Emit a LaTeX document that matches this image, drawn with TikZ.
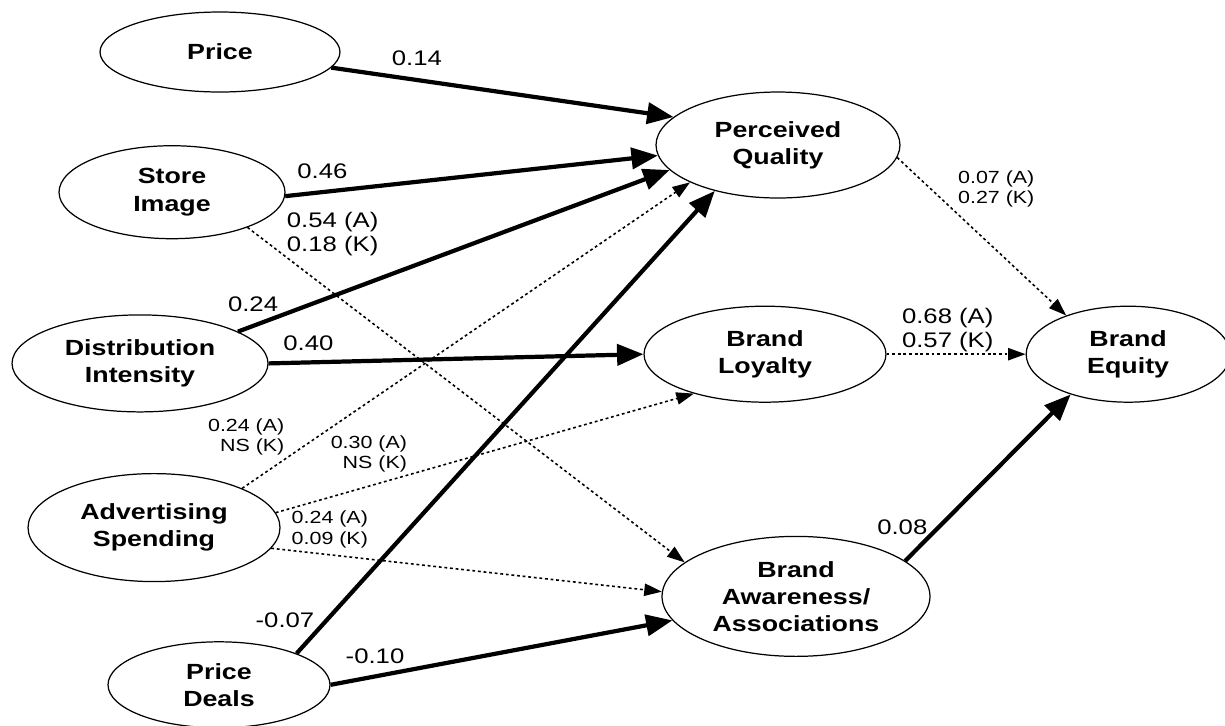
\documentclass[tikz,border=0pt]{standalone}
\usepackage{fontspec}
\setsansfont{Liberation Sans}[FakeStretch=1.22]
\usetikzlibrary{shapes.geometric, arrows.meta, positioning}

\begin{document}
\begin{tikzpicture}[
    x=0.02cm, y=-0.02cm,
    construct/.style={ellipse, draw=black, line width=0.7pt, fill=white, inner sep=0pt, align=center, font=\sffamily\bfseries\fontsize{12.5}{15.5}\selectfont},
    strong/.style={draw, line width=2.4pt, -{Triangle[length=15pt, width=12pt]}},
    weak/.style={draw, line width=0.9pt, dash pattern=on 1.6pt off 1.6pt, -{Triangle[length=10pt, width=7pt]}},
    coef/.style={font=\sffamily\fontsize{12}{14}\selectfont, inner sep=1pt},
    coefmid/.style={font=\sffamily\fontsize{12}{13.5}\selectfont, inner sep=1pt, align=left},
    coefsmall/.style={font=\sffamily\fontsize{10}{11.5}\selectfont, inner sep=1pt}
]
\useasboundingbox[fill=white] (0,0) rectangle (1225,725);

% Antecedents
\node[construct, minimum width=4.8cm, minimum height=1.6cm] (price) at (220,52) {Price};
\node[construct, minimum width=4.52cm, minimum height=1.86cm, below=1.05cm of price, xshift=-0.96cm] (store) {Store\\Image};
\node[construct, minimum width=5.12cm, minimum height=1.94cm, below=1.5cm of store, xshift=-0.64cm] (dist) {Distribution\\Intensity};
\node[construct, minimum width=5.04cm, minimum height=2.16cm, below=1.21cm of dist, xshift=0.28cm] (adv) {Advertising\\Spending};
\node[construct, minimum width=4.44cm, minimum height=1.72cm, below=1.18cm of adv, xshift=1.3cm] (deals) {Price\\Deals};

% Dimensions and outcome
\node[construct, minimum width=4.88cm, minimum height=2.12cm] (pq) at (778,145) {Perceived\\Quality};
\node[construct, minimum width=4.84cm, minimum height=1.92cm, below=2.14cm of pq, xshift=-0.26cm] (bl) {Brand\\Loyalty};
\node[construct, minimum width=5.36cm, minimum height=2.4cm, below=2.66cm of bl, xshift=0.62cm] (ba) {Brand\\Awareness/\\Associations};
\node[construct, minimum width=4.08cm, minimum height=1.92cm, right=2.78cm of bl] (be) {Brand\\Equity};

% Paths
\draw[strong] (price.352) -- node[coef, pos=0.25, above=6pt] {0.14} (pq.165);
\draw[strong] (store.358) -- node[coef, pos=0.10, above=5.5pt] {0.46} (pq.185);
\draw[strong] (dist.18) -- node[coef, pos=0.035, above=6pt] {0.24} (pq.193);
\draw[strong] (dist.east) -- node[coef, pos=0.106, above=4.5pt] {0.40} (bl.west);
\draw[weak] (store.335) -- node[coefmid, pos=0.02, right=16pt] {0.54 (A)\\0.18 (K)} (ba.163);
\draw[weak] (adv.24) -- node[coefsmall, pos=0.1, anchor=south east, align=right] {0.24 (A)\\NS (K)} (pq.203);
\draw[weak] (adv.7) -- node[coefsmall, pos=0.32, anchor=south east, align=right] {0.30 (A)\\NS (K)} (bl.209);
\draw[weak] (adv.350) -- node[coefsmall, pos=0.046, anchor=south west, align=left] {0.24 (A)\\0.09 (K)} (ba.178);
\draw[strong] (deals.22) -- node[coef, pos=0.06, left=2pt, yshift=3pt] {-0.07} (pq.216);
\draw[strong] (deals.east) -- node[coef, pos=0.13, above=5pt] {-0.10} (ba.191);
\draw[weak] (pq.354) -- node[coefsmall, pos=0.2, right=14pt, align=left] {0.07 (A)\\0.27 (K)} (be.148);
\draw[weak] (bl.east) -- node[coefmid, pos=0.44, above=0pt] {0.68 (A)\\0.57 (K)} (be.west);
\draw[strong] (ba.18) -- node[coef, pos=0.2, left=4pt] {0.08} (be.215);

\end{tikzpicture}
\end{document}
